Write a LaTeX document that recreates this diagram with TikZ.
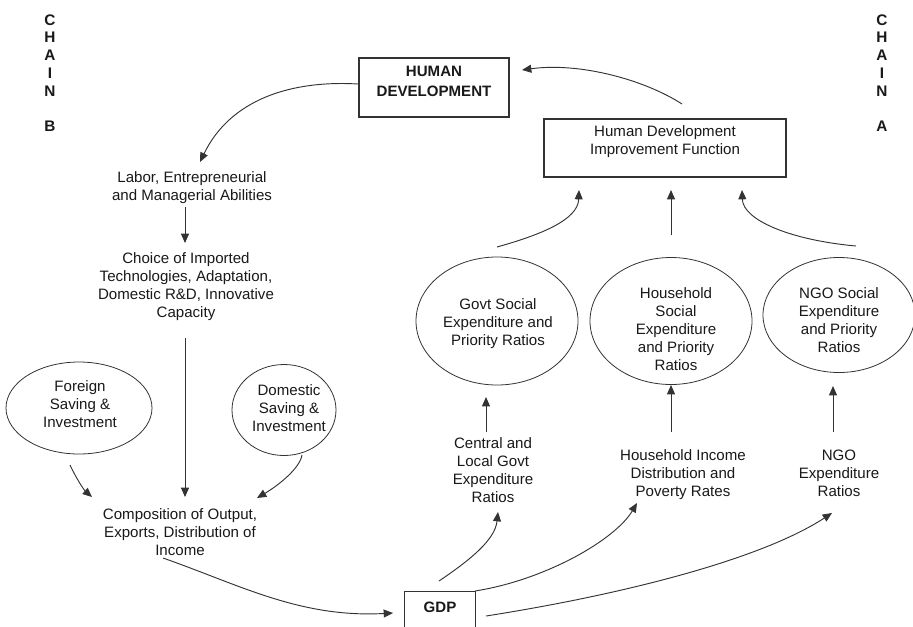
\documentclass[tikz,border=0pt]{standalone}
\usepackage{fontspec}
\setmainfont{Liberation Sans}
\usetikzlibrary{arrows.meta,shapes.geometric}
\begin{document}
\begin{tikzpicture}[x=0.75pt,y=-0.75pt,
  ln/.style={draw=black!80, line width=0.7pt},
  arr/.style={ln, -{Triangle[length=7pt,width=6pt]}},
  txt/.style={align=center, inner sep=0pt, text=black!90, font=\fontsize{11.3}{13.5}\selectfont},
  btxt/.style={txt, font=\fontsize{11.3}{14.5}\selectfont\bfseries},
  boxnode/.style={draw=black!80, line width=0.8pt, inner sep=0pt},
  ell/.style={ellipse, draw=black!80, line width=0.6pt, inner sep=0pt},
  chain/.style={align=center, inner sep=0pt, text=black!90, font=\fontsize{11.5}{13.3}\selectfont\bfseries}]
\clip (0,0) rectangle (913,626);
\fill[white] (0,0) rectangle (913,626);

% chain labels
\node[chain] (chB) at (50,73) {C\\H\\A\\I\\N\\~\\B};
\node[chain] (chA) at (882,73) {C\\H\\A\\I\\N\\~\\A};

% boxes
\node[boxnode, minimum width=112.5pt, minimum height=44.25pt] (hd) at (434,87.5) {};
\node[btxt] (hdT) at (434,81.5) {HUMAN\\DEVELOPMENT};
\node[boxnode, minimum width=181.5pt, minimum height=43.5pt] (hdif) at (665,148) {};
\node[txt] (hdifT) at (665,142) {Human Development\\Improvement Function};

% left chain texts
\node[txt] (lab) at (192,188) {Labor, Entrepreneurial\\and Managerial Abilities};
\node[txt] (choice) at (186,286.5) {Choice of Imported\\Technologies, Adaptation,\\Domestic R\&D, Innovative\\Capacity};
\node[txt] (comp) at (180,532) {Composition of Output,\\Exports, Distribution of\\Income};

% left ellipses
\node[ell, minimum width=109.5pt, minimum height=69pt] (forE) at (79,408) {};
\node[txt] (forT) at (80,404.5) {Foreign\\Saving \&\\Investment};
\node[ell, minimum width=78pt, minimum height=68.25pt] (domE) at (284,410) {};
\node[txt] (domT) at (289,408) {Domestic\\Saving \&\\Investment};

% right ellipses
\node[ell, minimum width=121.5pt, minimum height=96pt] (govE) at (497,321) {};
\node[txt] (govT) at (498,324) {Govt Social\\Expenditure and\\Priority Ratios};
\node[ell, minimum width=121.5pt, minimum height=95.25pt] (hhE) at (671,321) {};
\node[txt] (hhT) at (676,329) {Household\\Social\\Expenditure\\and Priority\\Ratios};
\node[ell, minimum width=114pt, minimum height=86.25pt] (ngoE) at (839,315) {};
\node[txt] (ngoT) at (839,320) {NGO Social\\Expenditure\\and Priority\\Ratios};

% right texts
\node[txt] (central) at (493,470) {Central and\\Local Govt\\Expenditure\\Ratios};
\node[txt] (hhinc) at (683,474.5) {Household Income\\Distribution and\\Poverty Rates};
\node[txt] (ngoexp) at (839,473.5) {NGO\\Expenditure\\Ratios};

% GDP box (bottom cut off)
\node[btxt, minimum width=52.5pt, minimum height=22.5pt] (gdp) at (440,607) {GDP};
\draw[boxnode] ([yshift=-30pt]gdp.south west) -- (gdp.north west) -- (gdp.north east) -- ([yshift=-30pt]gdp.south east);

% connectors
\draw[arr] ([shift={(17,-44)}]hdif.center) .. controls +(-37,-24) and +(58,-8) .. ([shift={(88,-17.5)}]hd.center);
\draw[arr] ([shift={(-76,-3.5)}]hd.center) .. controls +(-68,-4) and +(30,-62) .. ([shift={(8,-26)}]lab.center);
\draw[arr] ([shift={(-7,19)}]lab.center) -- ([shift={(-1,-43.5)}]choice.center);
\draw[arr] ([shift={(-1,51.5)}]choice.center) -- ([shift={(5,-35)}]comp.center);
\draw[arr] ([shift={(-9,57)}]forE.center) .. controls +(6,13) and +(-8,-7) .. ([shift={(-88,-35)}]comp.center);
\draw[arr] ([shift={(18,45)}]domE.center) .. controls +(-2,13) and +(22,-13) .. ([shift={(77,-34)}]comp.center);
\draw[arr] ([shift={(-17,26)}]comp.center) .. controls +(77,27) and +(-93,5) .. ([shift={(-47,6)}]gdp.center);
\draw[arr] ([shift={(-1,-26)}]gdp.center) .. controls +(31,-21) and +(-3,28) .. ([shift={(5,42)}]central.center);
\draw[arr] ([shift={(35,-16)}]gdp.center) .. controls +(70,-11) and +(-22,37) .. ([shift={(-46,28.5)}]hhinc.center);
\draw[arr] ([shift={(46,9)}]gdp.center) .. controls +(134,-21) and +(-72,47) .. ([shift={(-7,39.5)}]ngoexp.center);
\draw[arr] ([shift={(-7,-38)}]central.center) -- ([shift={(-11,76)}]govE.center);
\draw[arr] ([shift={(-12,-42.5)}]hhinc.center) -- ([shift={(0,64)}]hhE.center);
\draw[arr] ([shift={(-6,-41.5)}]ngoexp.center) -- ([shift={(-6,71)}]ngoE.center);
\draw[arr] ([shift={(0,-74)}]govE.center) .. controls +(43,-12) and +(-1,30) .. ([shift={(-86,42)}]hdif.center);
\draw[arr] ([shift={(0,-86)}]hhE.center) -- ([shift={(6,42)}]hdif.center);
\draw[arr] ([shift={(17,-69)}]ngoE.center) .. controls +(-66,-6) and +(1,30) .. ([shift={(77,42)}]hdif.center);
\end{tikzpicture}
\end{document}
